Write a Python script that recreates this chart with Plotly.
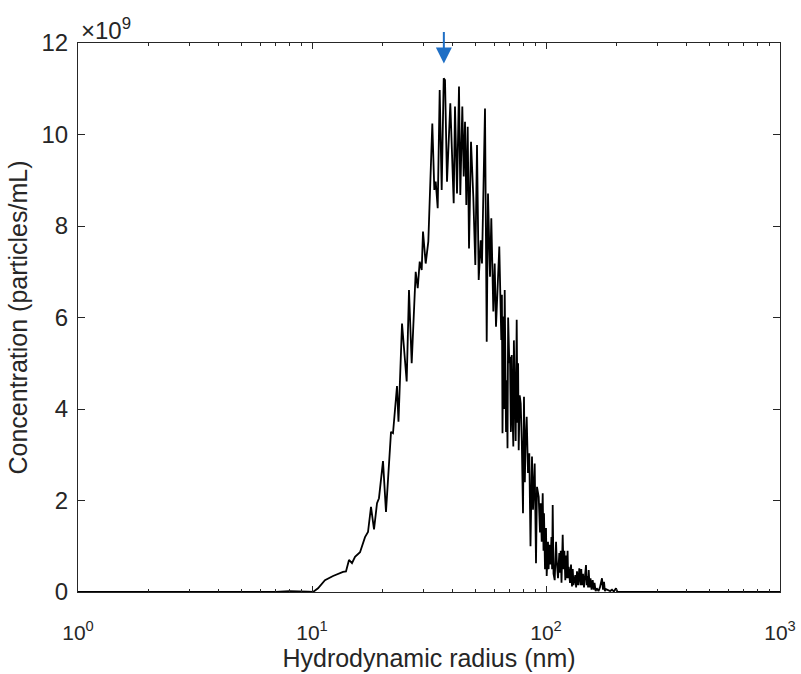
import math
import plotly.graph_objects as go

# Hydrodynamic radius (nm) and concentration (x 1e9 particles/mL)
radius_nm = [
    1, 2, 3, 4, 5, 6, 7, 8, 9, 9.6,
    10.1, 10.61, 11.36, 12.30, 13.57, 13.97, 14.39, 14.82, 15.27, 16.04,
    16.85, 17.35, 17.87, 18.41, 18.96, 19.33, 20.11, 20.71, 21.76, 22.19,
    23.08, 23.42, 24.25, 25.39, 25.97, 26.67, 27.74, 28.30, 28.86, 29.43,
    29.81, 30.61, 31.41, 32.67, 33.32, 33.78, 34.45, 35.13, 35.83, 36.55,
    37.02, 37.75, 39.00, 40.32, 40.84, 41.66, 42.48, 43.03, 43.89, 44.50,
    45.07, 45.65, 46.28, 46.88, 47.81, 48.90, 49.88, 50.72, 51.57, 52.60,
    53.27, 54.87, 55.80, 56.51, 57.64, 58.38, 59.54, 60.36, 61.14, 61.93,
    63.16, 64.41, 64.80, 65.18, 65.83, 66.20, 66.61, 67.47, 67.93, 68.47,
    68.90, 69.69, 70.17, 70.80, 71.36, 71.92, 72.49, 72.90, 73.35, 74.20,
    74.95, 75.55, 76.00, 76.44, 77.20, 77.96, 78.80, 79.75, 80.53, 81.20,
    81.73, 82.70, 83.77, 84.85, 85.85, 87.13, 87.99, 89.48, 90.63, 91.52,
    93.07, 94.27, 94.92, 95.86, 96.81, 97.57, 98.05, 99.02, 100.00, 100.69,
    101.99, 102.60, 103.30, 104.53, 105.50, 106.20, 106.81, 107.66, 108.94, 109.80,
    110.40, 111.10, 112.53, 113.98, 114.77, 115.60, 116.48, 117.86, 118.79, 119.80,
    120.91, 121.60, 122.35, 123.70, 124.30, 125.03, 126.64, 127.90, 129.15, 130.10,
    131.08, 133.42, 134.50, 135.67, 137.20, 138.77, 140.42, 141.50, 142.51, 143.90,
    145.34, 146.80, 148.23, 149.30, 150.43, 151.30, 152.22, 153.60, 154.94, 156.60,
    158.33, 160.00, 161.16, 163.00, 164.69, 167.63, 170.00, 173.50, 175.22, 176.95,
    178.50, 180.47, 184.61, 188.00, 191.44, 195.00, 199.14, 202.10, 250, 300,
    400, 500, 700, 1000,
]
conc_e9 = [
    0, 0, 0, 0, 0, 0, 0, 0.02, 0.02, 0.01,
    0.0, 0.08, 0.26, 0.35, 0.44, 0.45, 0.70, 0.63, 0.77, 0.87,
    1.20, 1.31, 1.86, 1.37, 1.94, 2.05, 2.86, 1.75, 3.50, 3.47,
    4.50, 3.72, 5.87, 4.60, 6.60, 5.00, 7.00, 6.64, 7.22, 7.04,
    7.88, 7.18, 7.66, 10.24, 8.79, 8.97, 8.39, 10.97, 8.79, 11.23,
    11.19, 8.97, 10.68, 8.50, 10.61, 8.71, 11.05, 8.68, 10.61, 9.08,
    10.28, 8.46, 10.17, 7.51, 9.84, 8.64, 7.15, 9.77, 6.82, 7.69,
    7.18, 10.57, 5.47, 8.71, 6.89, 8.17, 6.13, 7.18, 5.80, 6.60,
    7.55, 5.51, 6.50, 3.47, 6.02, 4.00, 6.60, 3.50, 4.63, 3.14,
    6.00, 5.00, 5.14, 3.50, 5.18, 3.90, 3.18, 5.50, 4.42, 3.30,
    5.95, 3.70, 5.00, 3.10, 4.30, 4.12, 3.30, 1.72, 4.27, 2.40,
    3.20, 3.83, 2.60, 3.03, 1.00, 2.96, 1.80, 2.81, 0.63, 2.30,
    2.08, 1.30, 1.94, 1.10, 2.16, 0.90, 1.72, 0.50, 1.40, 0.35,
    1.10, 0.50, 1.03, 0.60, 1.20, 0.50, 1.90, 0.40, 0.26, 0.90,
    1.10, 0.70, 0.30, 0.85, 0.42, 0.90, 0.20, 1.25, 0.50, 0.90,
    0.26, 0.80, 0.30, 0.90, 0.30, 0.55, 0.20, 0.60, 0.12, 0.50,
    0.15, 0.37, 0.10, 0.45, 0.15, 0.52, 0.15, 0.50, 0.15, 0.40,
    0.10, 0.35, 0.59, 0.15, 0.35, 0.10, 0.48, 0.10, 0.30, 0.05,
    0.26, 0.05, 0.20, 0.02, 0.08, 0.02, 0.10, 0.30, 0.05, 0.22,
    0.02, 0.06, 0.04, 0.02, 0.05, 0.01, 0.08, 0.0, 0, 0,
    0, 0, 0, 0,
]
assert len(radius_nm) == len(conc_e9)

x_tick_vals = [1, 10, 100, 1000]
x_tick_text = ["10<sup>0</sup>", "10<sup>1</sup>", "10<sup>2</sup>", "10<sup>3</sup>"]
x_minor_vals = [2, 3, 4, 5, 6, 7, 8, 9, 20, 30, 40, 50, 60, 70, 80, 90,
                200, 300, 400, 500, 600, 700, 800, 900]
y_tick_vals = [0, 2, 4, 6, 8, 10, 12]
y_tick_text = ["0", "2", "4", "6", "8", "10", "12"]
peak_radius = 36.6
peak_arrow_tip = 11.55

font_family = "Liberation Sans, Arial, Helvetica, sans-serif"
ink = "#262626"

fig = go.Figure()
fig.add_trace(go.Scatter(
    x=radius_nm, y=conc_e9, mode="lines",
    line=dict(color="black", width=1.8), showlegend=False,
))

fig.add_annotation(
    x=math.log10(peak_radius), y=peak_arrow_tip,
    xref="x", yref="y", ax=0, ay=-33, axref="pixel", ayref="pixel",
    showarrow=True, arrowhead=2, arrowsize=1.6, arrowwidth=2,
    arrowcolor="#1F6FC5", text="",
)
fig.add_annotation(
    x=0, y=1, xref="paper", yref="paper", xanchor="left", yanchor="bottom",
    text="×10<sup>9</sup>", showarrow=False, xshift=1, yshift=-3,
    font=dict(size=24, color=ink, family=font_family),
)

axis_common = dict(
    showgrid=False, zeroline=False, showline=True, linecolor=ink,
    linewidth=1, mirror="ticks", ticks="inside", tickcolor=ink,
    automargin=False,
)
fig.update_xaxes(
    type="log", range=[0, 3], tickvals=x_tick_vals, ticktext=x_tick_text,
    ticklen=6, tickwidth=1, ticklabelstandoff=22,
    tickfont=dict(size=21, color=ink, family=font_family),
    minor=dict(tickmode="array", tickvals=x_minor_vals, ticks="inside",
               ticklen=3, tickcolor=ink, showgrid=False),
    title=dict(text="Hydrodynamic radius (nm)", standoff=4,
               font=dict(size=25, color=ink, family=font_family)),
    **axis_common,
)
fig.update_yaxes(
    range=[0, 12], tickvals=y_tick_vals, ticktext=y_tick_text,
    ticklen=7, tickwidth=1, ticklabelstandoff=4,
    tickfont=dict(size=24, color=ink, family=font_family),
    title=dict(text="Concentration (particles/mL)", standoff=6,
               font=dict(size=25, color=ink, family=font_family)),
    **axis_common,
)
fig.update_layout(
    width=801, height=674,
    margin=dict(l=78, r=21, t=43, b=82),
    plot_bgcolor="white", paper_bgcolor="white",
)
fig.write_html("out.html")
